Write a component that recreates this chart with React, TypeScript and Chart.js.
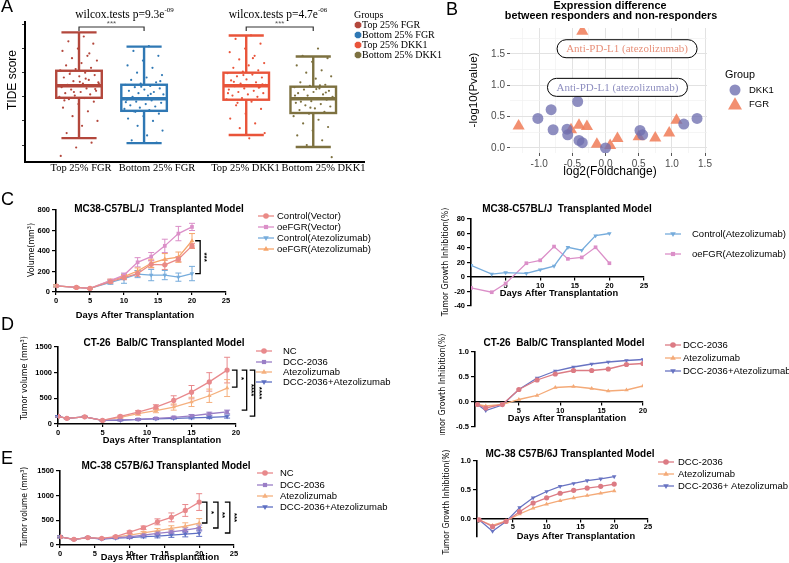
import React, { useEffect, useRef } from 'react';
import { Chart, registerables } from 'chart.js';

Chart.register(...registerables);

const SANS = '"Liberation Sans", Arial, Helvetica, sans-serif';
const SERIF = '"Liberation Serif", "Times New Roman", serif';
const NARROW = '"Liberation Sans Narrow", "DejaVu Sans Condensed", "Liberation Sans", sans-serif';

// ================= Panel A data =================
const A_GROUPS = ['Top 25% FGR', 'Bottom 25% FGR', 'Top 25% DKK1', 'Bottom 25% DKK1'];
const A_COLORS = ['#b3473c', '#2f78b4', '#e9543a', '#7d7140'];
const A_MIN = [-1.71, -1.92, -1.58, -2.08];
const A_Q1 = [-0.04, -0.58, -0.12, -0.67];
const A_MEDIAN = [0.46, -0.08, 0.46, -0.08];
const A_Q3 = [1.08, 0.5, 1.0, 0.42];
const A_MAX = [2.67, 2.08, 2.54, 1.67];
const A_PTS_TOP_FGR = [2.5, 2.3, 2.2, 2.0, 1.9, 1.7, 1.6, 1.5, 1.4, 1.3, 1.2, 1.15, 1.1, 1.0, 0.95, 0.9, 0.85, 0.8, 0.7, 0.65, 0.6, 0.55, 0.5, 0.48, 0.45, 0.4, 0.35, 0.3, 0.25, 0.2, 0.15, 0.1, 0.05, 0.0, -0.05, -0.1, -0.2, -0.3, -0.45, -0.6, -0.8, -1.0, -1.2, -1.5, -1.9, -2.1, -2.45, 0.75, 1.05, 0.32, 0.62, -0.15, 1.8, 0.2, 0.55];
const A_PTS_BOTTOM_FGR = [2.1, 1.9, 1.7, 1.5, 1.3, 1.2, 1.0, 0.9, 0.8, 0.7, 0.6, 0.55, 0.5, 0.45, 0.4, 0.35, 0.3, 0.25, 0.2, 0.15, 0.1, 0.05, 0.0, -0.05, -0.1, -0.12, -0.15, -0.2, -0.25, -0.3, -0.35, -0.4, -0.45, -0.5, -0.55, -0.6, -0.7, -0.8, -0.9, -1.0, -1.2, -1.4, -1.6, -1.8, -1.9, 0.42, -0.22, 0.12, -0.62, 0.65];
const A_PTS_TOP_DKK1 = [2.55, 2.4, 2.2, 2.0, 1.85, 1.7, 1.55, 1.4, 1.3, 1.2, 1.1, 1.05, 0.98, 0.92, 0.85, 0.8, 0.72, 0.68, 0.6, 0.55, 0.5, 0.47, 0.44, 0.4, 0.35, 0.3, 0.25, 0.2, 0.15, 0.1, 0.05, 0.0, -0.05, -0.1, -0.2, -0.35, -0.5, -0.7, -0.9, -1.1, -1.3, -1.5, -1.72, 0.62, 0.38, 0.9, 0.15, 1.6, -0.25, 0.52];
const A_PTS_BOTTOM_DKK1 = [2.0, 1.7, 1.6, 1.45, 1.3, 1.1, 1.0, 0.85, 0.75, 0.6, 0.5, 0.45, 0.4, 0.35, 0.3, 0.25, 0.2, 0.15, 0.1, 0.05, 0.0, -0.05, -0.08, -0.12, -0.18, -0.25, -0.3, -0.35, -0.4, -0.48, -0.55, -0.62, -0.7, -0.8, -0.95, -1.1, -1.25, -1.4, -1.6, -1.8, -2.0, -2.5, 0.32, -0.2, 0.18, -0.45, 0.05, 0.48];
const A_Y_TICKS = [-2, -1, 0, 1, 2, 3];
const A_P_MANTISSA = ['9.3e', '4.7e'];
const A_P_EXPONENT = ['-09', '-06'];

// ================= Panel B data =================
const B_DKK1_X = [-1.02, -0.82, -0.79, -0.58, -0.57, -0.42, -0.4, -0.35, 0.0, 0.52, 0.56, 1.18, 1.38];
const B_DKK1_Y = [0.47, 0.61, 0.29, 0.3, 0.21, 0.74, 0.12, 0.085, 0.0, 0.28, 0.21, 0.38, 0.47];
const B_FGR_X = [-0.35, -1.31, -0.52, -0.4, -0.28, -0.13, 0.07, 0.18, 0.5, 0.75, 0.96, 1.07];
const B_FGR_Y = [1.86, 0.35, 0.29, 0.36, 0.34, 0.06, 0.04, 0.15, 0.18, 0.16, 0.24, 0.44];
const B_X_TICKS = [-1.25, -1, -0.75, -0.5, -0.25, 0, 0.25, 0.5, 0.75, 1, 1.25, 1.5];
const B_Y_TICKS = [0, 0.25, 0.5, 0.75, 1, 1.25, 1.5, 1.75];
const B_NOTE_TEXT = ['Anti-PD-L1 (atezolizumab)', 'Anti-PD-L1 (atezolizumab)'];
const B_NOTE_X = [0.325, 0.18];
const B_NOTE_Y = [1.58, 0.965];
const B_NOTE_COLOR = ['#e8907a', '#8f8fc0'];

// ================= Panel C data =================
const C1_DAYS = [0, 3, 5, 8, 10, 12, 14, 16, 18, 20];
const C1_CONTROL_VECTOR = [60, 45, 35, 100, 140, 180, 270, 265, 320, 450];
const C1_CONTROL_VECTOR_SEM = [10, 6, 5, 15, 20, 30, 35, 45, 25, 25];
const C1_OEFGR_VECTOR = [60, 45, 35, 110, 165, 290, 345, 450, 570, 635];
const C1_OEFGR_VECTOR_SEM = [10, 6, 5, 15, 20, 45, 40, 65, 70, 35];
const C1_CONTROL_ATEZO = [60, 45, 35, 95, 130, 175, 165, 165, 145, 180];
const C1_CONTROL_ATEZO_SEM = [10, 6, 5, 20, 45, 35, 55, 45, 40, 70];
const C1_OEFGR_ATEZO = [60, 45, 35, 110, 150, 205, 280, 320, 340, 500];
const C1_OEFGR_ATEZO_SEM = [10, 6, 5, 15, 20, 30, 40, 55, 50, 70];

const C2_DAYS = [0, 3, 5, 8, 10, 12, 14, 16, 18, 20];
const C2_CONTROL_ATEZO = [16, 4, 6, 5, 10, 15, 41, 37, 57, 60];
const C2_OEFGR_ATEZO = [-15, -21, -9, 19, 23, 42, 25, 27, 41, 19];

// ================= Panel D data =================
const D1_DAYS = [0, 1, 3, 5, 7, 9, 11, 13, 15, 17, 19];
const D1_NC = [150, 110, 140, 70, 150, 230, 330, 460, 620, 820, 1050];
const D1_NC_SEM = [15, 10, 10, 10, 20, 30, 45, 90, 130, 180, 250];
const D1_DCC = [150, 110, 140, 70, 80, 90, 110, 130, 160, 200, 235];
const D1_DCC_SEM = [15, 10, 10, 10, 10, 15, 15, 20, 25, 30, 35];
const D1_ATEZO = [150, 110, 140, 70, 130, 200, 260, 330, 430, 550, 700];
const D1_ATEZO_SEM = [15, 10, 10, 10, 20, 30, 40, 60, 90, 130, 165];
const D1_COMBO = [150, 110, 140, 70, 70, 90, 100, 110, 120, 130, 145];
const D1_COMBO_SEM = [15, 10, 10, 10, 10, 10, 15, 15, 20, 25, 30];

const D2_DAYS = [0, 1, 3, 5, 7.2, 9.4, 11.6, 13.8, 15.8, 18, 20];
const D2_DCC = [-0.05, -0.12, -0.05, 0.25, 0.44, 0.56, 0.63, 0.63, 0.66, 0.75, 0.77];
const D2_ATEZO = [-0.05, -0.08, -0.05, 0.05, 0.13, 0.29, 0.31, 0.27, 0.22, 0.24, 0.32];
const D2_COMBO = [-0.05, -0.17, -0.06, 0.25, 0.48, 0.62, 0.7, 0.76, 0.8, 0.83, 0.85];

// ================= Panel E data =================
const E1_DAYS = [0, 2, 4, 6, 8, 10, 12, 14, 16, 18, 20];
const E1_NC = [165, 115, 150, 135, 170, 260, 350, 470, 560, 700, 870];
const E1_NC_SEM = [20, 10, 10, 15, 20, 25, 35, 60, 90, 120, 170];
const E1_DCC = [165, 115, 150, 125, 150, 165, 200, 235, 265, 300, 345];
const E1_DCC_SEM = [20, 10, 10, 10, 15, 20, 25, 35, 40, 50, 60];
const E1_ATEZO = [165, 115, 150, 130, 160, 200, 245, 290, 335, 380, 445];
const E1_ATEZO_SEM = [20, 10, 10, 15, 20, 25, 30, 45, 55, 70, 90];
const E1_COMBO = [165, 115, 150, 120, 140, 150, 170, 180, 200, 220, 240];
const E1_COMBO_SEM = [20, 10, 10, 10, 15, 20, 25, 35, 45, 55, 65];

const E2_DAYS = [0, 2, 4, 6, 8, 10, 12, 14, 16, 18, 20];
const E2_DCC = [-0.02, -0.14, -0.05, 0.12, 0.27, 0.36, 0.44, 0.49, 0.53, 0.56, 0.6];
const E2_ATEZO = [-0.02, -0.12, -0.04, 0.08, 0.18, 0.25, 0.31, 0.36, 0.4, 0.44, 0.48];
const E2_COMBO = [-0.02, -0.22, -0.05, 0.19, 0.36, 0.47, 0.56, 0.61, 0.66, 0.69, 0.73];

// ================= styling =================
const COL_CTRL_VEC = '#ea8a86';
const COL_OEFGR_VEC = '#db8fc8';
const COL_CTRL_ATE = '#76acdc';
const COL_OEFGR_ATE = '#f6a56a';
const COL_NC = '#e8898c';
const COL_DCC_L = '#9a7ec6';
const COL_ATE = '#f5b07e';
const COL_COMBO_L = '#5d6fc3';
const COL_DCC_R = '#dc7b84';
const COL_ATE_R = '#f4aa78';
const COL_COMBO_R = '#6873c2';

const TITLE_FONT = `bold 10px ${SANS}`;
const XTITLE_FONT = `bold 9.3px ${SANS}`;
const YTITLE_FONT = `8.8px ${NARROW}`;
const LEGEND_FONT = `9.5px ${SANS}`;
const TICK_FONT = { family: SANS, size: 7.5, weight: 'bold' as const };

// A box layout (positions, not data)
const A_XPOS = [0, 1, 2.57, 3.6];
const jitter = (i: number) => ((((i + 1) * 0.6180339887) % 1) - 0.5) * 0.62;

type TextItem = { t: string; x: number; y: number; font: string; color?: string; align?: CanvasTextAlign; rot?: number; sup?: string; supFont?: string };

function drawTexts(ctx: CanvasRenderingContext2D, items: TextItem[], ox: number, oy: number) {
  items.forEach((it) => {
    ctx.save();
    ctx.translate(it.x - ox, it.y - oy);
    if (it.rot) ctx.rotate(it.rot);
    ctx.font = it.font;
    ctx.fillStyle = it.color || '#000';
    ctx.textBaseline = 'middle';
    if (it.sup) {
      const w1 = ctx.measureText(it.t).width;
      ctx.font = it.supFont || it.font;
      const w2 = ctx.measureText(it.sup).width;
      const start = it.align === 'left' ? 0 : -(w1 + w2) / 2;
      ctx.textAlign = 'left';
      ctx.font = it.font;
      ctx.fillText(it.t, start, 0);
      ctx.font = it.supFont || it.font;
      ctx.fillText(it.sup, start + w1, -5);
    } else {
      ctx.textAlign = it.align || 'center';
      ctx.fillText(it.t, 0, 0);
    }
    ctx.restore();
  });
}

function drawMarker(ctx: CanvasRenderingContext2D, style: string, x: number, y: number, r: number, color: string, rot = 0) {
  ctx.save();
  ctx.fillStyle = color;
  ctx.translate(x, y);
  ctx.rotate((rot * Math.PI) / 180);
  ctx.beginPath();
  if (style === 'rect') {
    const s = r * 0.75;
    ctx.rect(-s, -s, 2 * s, 2 * s);
  } else if (style === 'triangle') {
    ctx.moveTo(0, -r * 1.1);
    ctx.lineTo(r, r * 0.65);
    ctx.lineTo(-r, r * 0.65);
    ctx.closePath();
  } else if (style === 'octagon') {
    for (let k = 0; k < 8; k++) {
      const a = Math.PI / 8 + (k * Math.PI) / 4;
      const px = r * Math.cos(a);
      const py = r * Math.sin(a);
      if (k) ctx.lineTo(px, py);
      else ctx.moveTo(px, py);
    }
    ctx.closePath();
  } else {
    ctx.arc(0, 0, r, 0, Math.PI * 2);
  }
  ctx.fill();
  ctx.restore();
}

const baseOptions = (pad: any) => ({
  responsive: false,
  animation: false,
  devicePixelRatio: 1,
  events: [],
  layout: { padding: pad },
  plugins: { legend: { display: false }, tooltip: { enabled: false }, title: { display: false } },
});

// ================= Panel A chart =================
function buildA() {
  const pts = [A_PTS_TOP_FGR, A_PTS_BOTTOM_FGR, A_PTS_TOP_DKK1, A_PTS_BOTTOM_DKK1];
  const datasets = pts.map((arr, g) => ({
    label: A_GROUPS[g],
    data: arr.map((v, i) => ({ x: A_XPOS[g] + jitter(i), y: v })),
    backgroundColor: A_COLORS[g],
    borderWidth: 0,
    pointRadius: 1.1,
  }));
  const plugin = {
    id: 'boxes',
    beforeDatasetsDraw(chart: any) {
      const { ctx } = chart;
      const xs = chart.scales.x;
      const ys = chart.scales.y;
      A_GROUPS.forEach((_, g) => {
        const c = A_XPOS[g];
        const xl = xs.getPixelForValue(c - 0.35);
        const xr = xs.getPixelForValue(c + 0.35);
        const xc = xs.getPixelForValue(c);
        const cl = xs.getPixelForValue(c - 0.27);
        const cr = xs.getPixelForValue(c + 0.27);
        const y1 = ys.getPixelForValue(A_Q1[g]);
        const y3 = ys.getPixelForValue(A_Q3[g]);
        const ym = ys.getPixelForValue(A_MEDIAN[g]);
        const ylo = ys.getPixelForValue(A_MIN[g]);
        const yhi = ys.getPixelForValue(A_MAX[g]);
        ctx.save();
        ctx.strokeStyle = A_COLORS[g];
        ctx.lineWidth = 2.4;
        ctx.beginPath();
        ctx.moveTo(xc, y3); ctx.lineTo(xc, yhi);
        ctx.moveTo(xc, y1); ctx.lineTo(xc, ylo);
        ctx.moveTo(cl, yhi); ctx.lineTo(cr, yhi);
        ctx.moveTo(cl, ylo); ctx.lineTo(cr, ylo);
        ctx.stroke();
        ctx.strokeRect(xl, y3, xr - xl, y1 - y3);
        ctx.lineWidth = 3.6;
        ctx.beginPath();
        ctx.moveTo(xl, ym); ctx.lineTo(xr, ym);
        ctx.stroke();
        ctx.restore();
      });
    },
    afterDraw(chart: any) {
      const { ctx, chartArea } = chart;
      const xs = chart.scales.x;
      // significance brackets
      [[0, 1], [2, 3]].forEach(([a, b]) => {
        const xa = xs.getPixelForValue(A_XPOS[a]);
        const xb = xs.getPixelForValue(A_XPOS[b]);
        const yb = chartArea.top + 5;
        ctx.save();
        ctx.strokeStyle = '#333';
        ctx.lineWidth = 1.2;
        ctx.beginPath();
        ctx.moveTo(xa, yb + 4); ctx.lineTo(xa, yb); ctx.lineTo(xb, yb); ctx.lineTo(xb, yb + 4);
        ctx.stroke();
        ctx.fillStyle = '#555';
        ctx.font = `8px ${SANS}`;
        ctx.textAlign = 'center';
        ctx.textBaseline = 'middle';
        ctx.fillText('***', (xa + xb) / 2, yb - 3);
        ctx.restore();
      });
      const texts: TextItem[] = [
        { t: 'wilcox.tests p=' + A_P_MANTISSA[0], sup: A_P_EXPONENT[0], x: 124.5, y: 15, font: `11.5px ${SERIF}`, supFont: `7px ${SERIF}` },
        { t: 'wilcox.tests p=' + A_P_MANTISSA[1], sup: A_P_EXPONENT[1], x: 278, y: 15, font: `11.5px ${SERIF}`, supFont: `7px ${SERIF}` },
        { t: 'TIDE score', x: 13, y: 80, rot: -Math.PI / 2, font: `12px ${SANS}` },
        { t: A_GROUPS[0], x: 81, y: 168, font: `10.5px ${SERIF}` },
        { t: A_GROUPS[1], x: 157, y: 168, font: `10.5px ${SERIF}` },
        { t: A_GROUPS[2], x: 245.5, y: 168, font: `10.5px ${SERIF}` },
        { t: A_GROUPS[3], x: 323.5, y: 168, font: `10.5px ${SERIF}` },
        { t: 'Groups', x: 354, y: 15, font: `10px ${SERIF}`, align: 'left' },
      ];
      A_GROUPS.forEach((g, i) => {
        texts.push({ t: g, x: 362, y: 25 + i * 10, font: `10px ${SERIF}`, align: 'left' });
        drawMarker(ctx, 'octagon', 358, 25 + i * 10, 3.6, A_COLORS[i]);
      });
      drawTexts(ctx, texts, 0, 0);
    },
  };
  return {
    type: 'scatter',
    data: { datasets },
    options: {
      ...baseOptions({ left: 0, right: 116, top: 22, bottom: 0 }),
      scales: {
        x: {
          type: 'linear', min: -0.83, max: 4.38,
          ticks: { display: false },
          grid: { display: false },
          border: { display: true, color: '#000', width: 2 },
          afterFit: (s: any) => { s.height = 18; },
        },
        y: {
          type: 'linear', min: -2.7, max: 3.1,
          afterBuildTicks: (s: any) => { s.ticks = A_Y_TICKS.map((v) => ({ value: v })); },
          ticks: { display: false },
          grid: { display: true, drawOnChartArea: false, drawTicks: true, tickLength: 3, color: '#333', lineWidth: 1 },
          border: { display: true, color: '#000', width: 2 },
          afterFit: (s: any) => { s.width = 25; },
        },
      },
    },
    plugins: [plugin],
  };
}

// ================= Panel B chart =================
function buildB() {
  const OX = 460;
  const major = (v: number) => Math.abs(v * 2 - Math.round(v * 2)) < 1e-6;
  const grid = {
    display: true, drawOnChartArea: true, drawTicks: true, tickLength: 3,
    color: (c: any) => (c.tick && major(c.tick.value) ? '#e2e2e2' : '#f1f1f1'),
    tickColor: (c: any) => (c.tick && major(c.tick.value) ? '#555' : 'rgba(0,0,0,0)'),
    lineWidth: (c: any) => (c.tick && major(c.tick.value) ? 1 : 0.7),
  };
  const ticks = { font: { family: SANS, size: 10 }, color: '#4d4d4d', padding: 2, autoSkip: false, maxRotation: 0, callback: (v: any) => (major(Number(v)) ? Number(v).toFixed(1) : '') };
  const plugin = {
    id: 'bextras',
    afterDatasetsDraw(chart: any) {
      const { ctx } = chart;
      const xs = chart.scales.x;
      const ys = chart.scales.y;
      B_NOTE_TEXT.forEach((t, i) => {
        const cx = xs.getPixelForValue(B_NOTE_X[i]);
        const cy = ys.getPixelForValue(B_NOTE_Y[i]);
        const w = 140, h = 18, r = 9;
        const x0 = cx - w / 2, y0 = cy - h / 2;
        ctx.save();
        ctx.fillStyle = '#fff';
        ctx.strokeStyle = '#000';
        ctx.lineWidth = 1;
        ctx.beginPath();
        ctx.moveTo(x0 + r, y0);
        ctx.lineTo(x0 + w - r, y0);
        ctx.arc(x0 + w - r, y0 + r, r, -Math.PI / 2, Math.PI / 2);
        ctx.lineTo(x0 + r, y0 + h);
        ctx.arc(x0 + r, y0 + r, r, Math.PI / 2, (3 * Math.PI) / 2);
        ctx.closePath();
        ctx.fill();
        ctx.stroke();
        ctx.fillStyle = B_NOTE_COLOR[i];
        ctx.font = `11px ${SERIF}`;
        ctx.textAlign = 'center';
        ctx.textBaseline = 'middle';
        ctx.fillText(t, cx, cy + 0.5);
        ctx.restore();
      });
    },
    afterDraw(chart: any) {
      const { ctx } = chart;
      drawTexts(ctx, [
        { t: 'Expression difference', x: 610, y: 6, font: `bold 10.8px ${SANS}` },
        { t: 'between responders and non-responders', x: 611, y: 16, font: `bold 10.8px ${SANS}` },
        { t: '-log10(Pvalue)', x: 474, y: 90, rot: -Math.PI / 2, font: `11.5px ${SANS}` },
        { t: 'log2(Foldchange)', x: 610, y: 172, font: `12px ${SANS}` },
        { t: 'Group', x: 725, y: 75, font: `10.8px ${SANS}`, align: 'left' },
        { t: 'DKK1', x: 749, y: 90, font: `9.5px ${SANS}`, align: 'left' },
        { t: 'FGR', x: 749, y: 104, font: `9.5px ${SANS}`, align: 'left' },
      ], OX, 0);
      drawMarker(ctx, 'circle', 735 - OX, 90, 5.5, 'rgba(112,112,176,0.8)');
      drawMarker(ctx, 'triangle', 735 - OX, 105, 7, 'rgba(240,128,92,0.88)');
    },
  };
  return {
    type: 'scatter',
    data: {
      datasets: [
        { label: 'DKK1', data: B_DKK1_X.map((x, i) => ({ x, y: B_DKK1_Y[i] })), pointStyle: 'circle', pointRadius: 5.5, backgroundColor: 'rgba(112,112,176,0.78)', borderWidth: 0 },
        { label: 'FGR', data: B_FGR_X.map((x, i) => ({ x, y: B_FGR_Y[i] })), pointStyle: 'triangle', pointRadius: 7, backgroundColor: 'rgba(240,128,92,0.88)', borderWidth: 0 },
      ],
    },
    options: {
      ...baseOptions({ left: 0, right: 82, top: 28, bottom: 0 }),
      scales: {
        x: {
          type: 'linear', min: -1.44, max: 1.53,
          afterBuildTicks: (s: any) => { s.ticks = B_X_TICKS.map((v) => ({ value: v })); },
          ticks, grid, border: { display: false },
          afterFit: (s: any) => { s.height = 27; },
        },
        y: {
          type: 'linear', min: -0.08, max: 1.91,
          afterBuildTicks: (s: any) => { s.ticks = B_Y_TICKS.map((v) => ({ value: v })); },
          ticks, grid, border: { display: false },
          afterFit: (s: any) => { s.width = 50; },
        },
      },
    },
    plugins: [plugin],
  };
}

// ================= line panels =================
type Ser = { label: string; color: string; style: string; rot?: number; x: number[]; y: number[]; err?: number[] };
type Bracket = { x: number; y1: number; y2: number; label: string };
type LineSpec = {
  ox: number; oy: number; w: number; h: number;
  pad: { left: number; right: number; top: number; bottom: number };
  yW: number; xH?: number;
  x: { min: number; max: number; ticks: number[]; hideZero?: boolean; atZero?: boolean };
  y: { min: number; max: number; ticks: number[]; dec?: number };
  series: Ser[];
  texts: TextItem[];
  legend: { mx: number; tx: number; ys: number[] };
  brackets?: Bracket[];
};

function buildLine(spec: LineSpec) {
  const datasets = spec.series.map((s) => ({
    label: s.label,
    data: s.x.map((v, i) => ({ x: v, y: s.y[i] })),
    err: s.err,
    borderColor: s.color,
    backgroundColor: s.color,
    borderWidth: 1.3,
    pointStyle: s.style,
    pointRotation: s.rot || 0,
    pointRadius: 2.6,
    pointBorderWidth: 0,
    tension: 0,
    fill: false,
  }));
  const xAxis: any = {
    type: 'linear', axis: 'x', min: spec.x.min, max: spec.x.max,
    afterBuildTicks: (s: any) => { s.ticks = spec.x.ticks.map((v) => ({ value: v })); },
    ticks: { font: TICK_FONT, color: '#000', padding: 1, autoSkip: false, maxRotation: 0, callback: (v: any) => (spec.x.hideZero && Number(v) === 0 ? '' : String(v)) },
    grid: { display: true, drawOnChartArea: false, drawTicks: true, tickLength: 3, color: '#000', lineWidth: 1.2 },
    border: { display: true, color: '#000', width: 1.6 },
  };
  if (spec.x.atZero) xAxis.position = { y: 0 };
  else {
    xAxis.position = 'bottom';
    xAxis.afterFit = (s: any) => { s.height = spec.xH || 20; };
  }
  const yAxis: any = {
    type: 'linear', axis: 'y', position: 'left', min: spec.y.min, max: spec.y.max,
    afterBuildTicks: (s: any) => { s.ticks = spec.y.ticks.map((v) => ({ value: v })); },
    ticks: { font: TICK_FONT, color: '#000', padding: 2, autoSkip: false, callback: (v: any) => Number(v).toFixed(spec.y.dec || 0) },
    grid: { display: true, drawOnChartArea: false, drawTicks: true, tickLength: 4, color: '#000', lineWidth: 1.2 },
    border: { display: true, color: '#000', width: 1.6 },
    afterFit: (s: any) => { s.width = spec.yW; },
  };
  const plugin = {
    id: 'lineextras',
    beforeDatasetsDraw(chart: any) {
      const { ctx } = chart;
      const xs = chart.scales.x;
      const ys = chart.scales.y;
      chart.data.datasets.forEach((ds: any) => {
        if (!ds.err) return;
        ctx.save();
        ctx.strokeStyle = ds.borderColor;
        ctx.lineWidth = 1;
        ds.data.forEach((p: any, i: number) => {
          const e = ds.err[i];
          if (!e) return;
          const px = xs.getPixelForValue(p.x);
          const top = ys.getPixelForValue(p.y + e);
          const bot = ys.getPixelForValue(p.y - e);
          ctx.beginPath();
          ctx.moveTo(px, top); ctx.lineTo(px, bot);
          ctx.moveTo(px - 3, top); ctx.lineTo(px + 3, top);
          ctx.moveTo(px - 3, bot); ctx.lineTo(px + 3, bot);
          ctx.stroke();
        });
        ctx.restore();
      });
    },
    afterDraw(chart: any) {
      const { ctx } = chart;
      const xs = chart.scales.x;
      const ys = chart.scales.y;
      (spec.brackets || []).forEach((b) => {
        const px = xs.getPixelForValue(b.x);
        const y1 = ys.getPixelForValue(b.y1);
        const y2 = ys.getPixelForValue(b.y2);
        ctx.save();
        ctx.strokeStyle = '#000';
        ctx.lineWidth = 1.3;
        ctx.beginPath();
        ctx.moveTo(px - 5, y1); ctx.lineTo(px, y1); ctx.lineTo(px, y2); ctx.lineTo(px - 5, y2);
        ctx.stroke();
        ctx.translate(px + 4.5, (y1 + y2) / 2);
        ctx.rotate(Math.PI / 2);
        ctx.font = `bold 8px ${SANS}`;
        ctx.fillStyle = '#000';
        ctx.textAlign = 'center';
        ctx.textBaseline = 'middle';
        ctx.fillText(b.label, 0, 0);
        ctx.restore();
      });
      spec.series.forEach((s, i) => {
        const ly = spec.legend.ys[i] - spec.oy;
        const mx = spec.legend.mx - spec.ox;
        ctx.save();
        ctx.strokeStyle = s.color;
        ctx.lineWidth = 1.3;
        ctx.beginPath();
        ctx.moveTo(mx - 8, ly); ctx.lineTo(mx + 8, ly);
        ctx.stroke();
        ctx.restore();
        drawMarker(ctx, s.style, mx, ly, 2.8, s.color, s.rot || 0);
      });
      drawTexts(ctx, [
        ...spec.texts,
        ...spec.series.map((s, i) => ({ t: s.label, x: spec.legend.tx, y: spec.legend.ys[i], font: LEGEND_FONT, align: 'left' as CanvasTextAlign })),
      ], spec.ox, spec.oy);
    },
  };
  return {
    type: 'line',
    data: { datasets },
    options: { ...baseOptions(spec.pad), scales: { x: xAxis, y: yAxis } },
    plugins: [plugin],
  };
}

const ROT = -Math.PI / 2;

const LINE_SPECS: LineSpec[] = [
  {
    ox: 0, oy: 190, w: 400, h: 135,
    pad: { left: 0, right: 174, top: 20, bottom: 0 }, yW: 56, xH: 33,
    x: { min: 0, max: 25, ticks: [0, 5, 10, 15, 20, 25] },
    y: { min: 0, max: 800, ticks: [0, 200, 400, 600, 800] },
    series: [
      { label: 'Control(Vector)', color: COL_CTRL_VEC, style: 'circle', x: C1_DAYS, y: C1_CONTROL_VECTOR, err: C1_CONTROL_VECTOR_SEM },
      { label: 'oeFGR(Vector)', color: COL_OEFGR_VEC, style: 'rect', x: C1_DAYS, y: C1_OEFGR_VECTOR, err: C1_OEFGR_VECTOR_SEM },
      { label: 'Control(Atezolizumab)', color: COL_CTRL_ATE, style: 'triangle', rot: 180, x: C1_DAYS, y: C1_CONTROL_ATEZO, err: C1_CONTROL_ATEZO_SEM },
      { label: 'oeFGR(Atezolizumab)', color: COL_OEFGR_ATE, style: 'triangle', x: C1_DAYS, y: C1_OEFGR_ATEZO, err: C1_OEFGR_ATEZO_SEM },
    ],
    texts: [
      { t: 'MC38-C57BL/J  Transplanted Model', x: 159, y: 209, font: TITLE_FONT },
      { t: 'Volume(mm³)', x: 32, y: 250, rot: ROT, font: YTITLE_FONT },
      { t: 'Days After Transplantation', x: 135, y: 315, font: XTITLE_FONT },
    ],
    legend: { mx: 266, tx: 277, ys: [216, 227, 238, 249] },
    brackets: [{ x: 21.2, y1: 500, y2: 180, label: '***' }],
  },
  {
    ox: 400, oy: 190, w: 389, h: 130,
    pad: { left: 0, right: 145, top: 29, bottom: 14 }, yW: 71,
    x: { min: 0, max: 25, ticks: [0, 5, 10, 15, 20, 25], hideZero: true, atZero: true },
    y: { min: -40, max: 80, ticks: [-40, -20, 0, 20, 40, 60, 80] },
    series: [
      { label: 'Control(Atezolizumab)', color: COL_CTRL_ATE, style: 'triangle', rot: 180, x: C2_DAYS, y: C2_CONTROL_ATEZO },
      { label: 'oeFGR(Atezolizumab)', color: COL_OEFGR_VEC, style: 'rect', x: C2_DAYS, y: C2_OEFGR_ATEZO },
    ],
    texts: [
      { t: 'MC38-C57BL/J  Transplanted Model', x: 567, y: 209, font: TITLE_FONT },
      { t: 'Tumor Growth Inhibition(%)', x: 446, y: 262, rot: ROT, font: YTITLE_FONT },
      { t: 'Days After Transplantation', x: 559, y: 293, font: XTITLE_FONT },
    ],
    legend: { mx: 673, tx: 692, ys: [234, 254] },
  },
  {
    ox: 0, oy: 330, w: 400, h: 115,
    pad: { left: 0, right: 164, top: 17, bottom: 0 }, yW: 58, xH: 21,
    x: { min: 0, max: 20, ticks: [0, 5, 10, 15, 20] },
    y: { min: 0, max: 1500, ticks: [0, 500, 1000, 1500] },
    series: [
      { label: 'NC', color: COL_NC, style: 'circle', x: D1_DAYS, y: D1_NC, err: D1_NC_SEM },
      { label: 'DCC-2036', color: COL_DCC_L, style: 'rect', x: D1_DAYS, y: D1_DCC, err: D1_DCC_SEM },
      { label: 'Atezolizumab', color: COL_ATE, style: 'triangle', x: D1_DAYS, y: D1_ATEZO, err: D1_ATEZO_SEM },
      { label: 'DCC-2036+Atezolizumab', color: COL_COMBO_L, style: 'triangle', rot: 180, x: D1_DAYS, y: D1_COMBO, err: D1_COMBO_SEM },
    ],
    texts: [
      { t: 'CT-26  Balb/C Transplanted Model', x: 164, y: 343, font: TITLE_FONT },
      { t: 'Tumor volume (mm³)', x: 25, y: 378, rot: ROT, font: YTITLE_FONT },
      { t: 'Days After Transplantation', x: 162, y: 440, font: XTITLE_FONT },
    ],
    legend: { mx: 264, tx: 283, ys: [351, 362, 372, 382] },
    brackets: [
      { x: 20.1, y1: 1050, y2: 720, label: '*' },
      { x: 21.2, y1: 1050, y2: 270, label: '****' },
      { x: 22.1, y1: 1050, y2: 155, label: '****' },
    ],
  },
  {
    ox: 400, oy: 330, w: 389, h: 105,
    pad: { left: 0, right: 146, top: 22, bottom: 8 }, yW: 75,
    x: { min: -0.3, max: 20, ticks: [0, 5, 10, 15, 20], hideZero: true, atZero: true },
    y: { min: -0.5, max: 1.0, ticks: [-0.5, 0, 0.5, 1.0], dec: 1 },
    series: [
      { label: 'DCC-2036', color: COL_DCC_R, style: 'circle', x: D2_DAYS, y: D2_DCC },
      { label: 'Atezolizumab', color: COL_ATE_R, style: 'triangle', x: D2_DAYS, y: D2_ATEZO },
      { label: 'DCC-2036+Atezolizumab', color: COL_COMBO_R, style: 'triangle', rot: 180, x: D2_DAYS, y: D2_COMBO },
    ],
    texts: [
      { t: 'CT-26  Balb/C Transplanted Model', x: 564, y: 343, font: TITLE_FONT },
      { t: 'Tumor Growth Inhibition(%)', x: 443, y: 388, rot: ROT, font: YTITLE_FONT },
      { t: 'Days After Transplantation', x: 567, y: 418, font: XTITLE_FONT },
    ],
    legend: { mx: 673, tx: 683, ys: [345, 358, 371] },
  },
  {
    ox: 0, oy: 455, w: 400, h: 108,
    pad: { left: 0, right: 166, top: 16, bottom: 0 }, yW: 60, xH: 18,
    x: { min: 0, max: 25, ticks: [0, 5, 10, 15, 20, 25] },
    y: { min: 0, max: 1500, ticks: [0, 500, 1000, 1500] },
    series: [
      { label: 'NC', color: COL_NC, style: 'circle', x: E1_DAYS, y: E1_NC, err: E1_NC_SEM },
      { label: 'DCC-2036', color: COL_DCC_L, style: 'rect', x: E1_DAYS, y: E1_DCC, err: E1_DCC_SEM },
      { label: 'Atezolizumab', color: COL_ATE, style: 'triangle', x: E1_DAYS, y: E1_ATEZO, err: E1_ATEZO_SEM },
      { label: 'DCC-2036+Atezolizumab', color: COL_COMBO_L, style: 'triangle', rot: 180, x: E1_DAYS, y: E1_COMBO, err: E1_COMBO_SEM },
    ],
    texts: [
      { t: 'MC-38 C57B/6J Transplanted Model', x: 166, y: 466, font: TITLE_FONT },
      { t: 'Tumor volume (mm³)', x: 25, y: 507, rot: ROT, font: `8.5px ${NARROW}` },
      { t: 'Days After Transplantation', x: 160, y: 557, font: XTITLE_FONT },
    ],
    legend: { mx: 265, tx: 280, ys: [473, 485, 496, 507] },
    brackets: [
      { x: 21.1, y1: 870, y2: 446, label: '*' },
      { x: 22.7, y1: 870, y2: 345, label: '**' },
      { x: 24.4, y1: 870, y2: 243, label: '***' },
    ],
  },
  {
    ox: 400, oy: 440, w: 389, h: 123,
    pad: { left: 0, right: 141, top: 21, bottom: 26 }, yW: 77,
    x: { min: -0.3, max: 25, ticks: [0, 5, 10, 15, 20, 25], hideZero: true, atZero: true },
    y: { min: -0.32, max: 1.0, ticks: [0, 0.5, 1.0], dec: 1 },
    series: [
      { label: 'DCC-2036', color: COL_DCC_R, style: 'circle', x: E2_DAYS, y: E2_DCC },
      { label: 'Atezolizumab', color: COL_ATE_R, style: 'triangle', x: E2_DAYS, y: E2_ATEZO },
      { label: 'DCC-2036+ Atezolizumab', color: COL_COMBO_R, style: 'triangle', rot: 180, x: E2_DAYS, y: E2_COMBO },
    ],
    texts: [
      { t: 'MC-38 C57B/6J Transplanted Model', x: 570, y: 454, font: TITLE_FONT },
      { t: 'Tumor Growth Inhibition(%)', x: 447, y: 502, rot: ROT, font: `8.5px ${NARROW}` },
      { t: 'Days After Transplantation', x: 576, y: 536, font: XTITLE_FONT },
    ],
    legend: { mx: 666, tx: 678, ys: [462, 474, 486] },
  },
];

function ChartCanvas({ x, y, w, h, build }: { x: number; y: number; w: number; h: number; build: () => any }) {
  const ref = useRef<HTMLCanvasElement>(null);
  useEffect(() => {
    const chart = new Chart(ref.current as HTMLCanvasElement, build());
    return () => chart.destroy();
  }, []);
  return <canvas ref={ref} width={w} height={h} style={{ position: 'absolute', left: x, top: y, width: w, height: h }} />;
}

const LETTERS = [
  { t: 'A', x: 1, y: -3 },
  { t: 'B', x: 446, y: 0 },
  { t: 'C', x: 1, y: 190 },
  { t: 'D', x: 1, y: 315 },
  { t: 'E', x: 1, y: 449 },
];

export default function App() {
  return (
    <div style={{ position: 'absolute', left: 0, top: 0, width: 789, height: 563, background: '#fff', overflow: 'hidden' }}>
      <ChartCanvas x={0} y={0} w={480} h={180} build={buildA} />
      <ChartCanvas x={460} y={0} w={329} h={180} build={buildB} />
      {LINE_SPECS.map((s, i) => (
        <ChartCanvas key={i} x={s.ox} y={s.oy} w={s.w} h={s.h} build={() => buildLine(s)} />
      ))}
      {LETTERS.map((l) => (
        <div key={l.t} style={{ position: 'absolute', left: l.x, top: l.y, fontFamily: SANS, fontSize: 18, lineHeight: '18px', color: '#000' }}>{l.t}</div>
      ))}
    </div>
  );
}
